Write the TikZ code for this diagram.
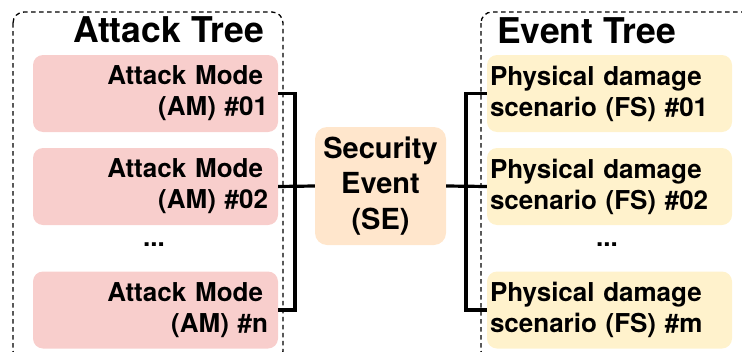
\documentclass[tikz,border=0pt]{standalone}
\usepackage{fontspec}
\setmainfont{TeX Gyre Heros}
\definecolor{ampink}{HTML}{F8CECC}
\definecolor{sepeach}{HTML}{FFE6CC}
\definecolor{fsyellow}{HTML}{FFF2CC}
\tikzset{
  grp/.style={draw=black, line width=1.3pt, dash pattern=on 4.5pt off 3.5pt, rounded corners=11pt},
  ambox/.style={fill=ampink, rounded corners=10pt, minimum width=245pt, minimum height=77pt,
    text width=225pt, inner xsep=10pt, inner ysep=0pt, align=right,
    font=\fontsize{26}{31}\selectfont\bfseries},
  fsbox/.style={fill=fsyellow, rounded corners=10pt, minimum width=245pt, minimum height=77pt,
    text width=239pt, inner xsep=3pt, inner ysep=0pt, align=left,
    font=\fontsize{26}{31}\selectfont\bfseries},
  sebox/.style={fill=sepeach, rounded corners=12pt, minimum width=131pt, minimum height=118pt,
    inner sep=0pt, align=center, font=\fontsize{29}{35.5}\selectfont\bfseries},
  ttl/.style={inner sep=0pt, font=\fontsize{35.5}{40}\selectfont\bfseries},
  dotsl/.style={inner sep=0pt, font=\fontsize{26}{31}\selectfont\bfseries},
  conn/.style={draw=black, line width=3.2pt}
}
\begin{document}
\begin{tikzpicture}[x=1pt,y=-1pt]
\useasboundingbox (0,0) rectangle (742,351);
\clip (0,0) rectangle (742,351);
% group frames
\draw[grp] (13,12) rectangle (283,362);
\draw[grp] (481,12) rectangle (760,362);
% titles
\node[ttl, anchor=base east] (tat) at (264,42) {Attack Tree};
\node[ttl, anchor=base west] (tet) at (497,43) {Event Tree};
% attack modes
\node[ambox] (am1) at (155.5,93.5) {Attack Mode\kern5pt\\(AM) \#01};
\node[ambox] (am2) at (155.5,186.5) {Attack Mode\kern5pt\\(AM) \#02};
\node[ambox] (amn) at (155.5,310) {Attack Mode\kern5pt\\(AM) \#n};
\node[dotsl] (dl) at (154,245) {...};
% security event
\node[sebox] (se) at (380.5,186) {Security\\Event\\(SE)};
% physical damage scenarios
\node[fsbox] (fs1) at (609.5,93.5) {Physical damage\\scenario (FS) \#01};
\node[fsbox] (fs2) at (609.5,186.5) {Physical damage\\scenario (FS) \#02};
\node[fsbox] (fsm) at (609.5,310) {Physical damage\\scenario (FS) \#m};
\node[dotsl] (dr) at (607,245) {...};
% connectors
\coordinate (bl) at (295,186);
\coordinate (br) at (466,186);
\draw[conn] (am1.east) -| (bl) |- (amn.east);
\draw[conn] (am2.east) -- (se.west);
\draw[conn] (fs1.west) -| (br) |- (fsm.west);
\draw[conn] (se.east) -- (fs2.west);
\end{tikzpicture}
\end{document}
